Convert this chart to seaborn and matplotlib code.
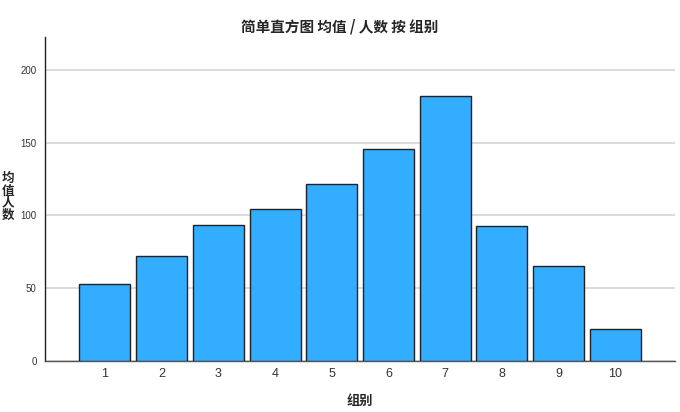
import pandas as pd
import matplotlib
matplotlib.use("Agg")
import matplotlib.pyplot as plt
import seaborn as sns

groups = ["1", "2", "3", "4", "5", "6", "7", "8", "9", "10"]
mean_counts = [52.5, 72, 93.2, 104.4, 121.4, 146, 182, 92.4, 65.4, 21.6]
yticks = [0, 50, 100, 150, 200]

df = pd.DataFrame({"group": groups, "count": mean_counts})

sns.set_style("white")
plt.rcParams["font.family"] = ["Liberation Sans", "Noto Sans CJK SC", "DejaVu Sans"]
cjk = ["Noto Sans CJK SC", "DejaVu Sans"]

fig = plt.figure(figsize=(6.8, 4.12), dpi=100)
ax = fig.add_axes([0.066, 0.1245, 0.927, 0.7855])

sns.barplot(data=df, x="group", y="count", order=groups, color="#33adff",
            saturation=1, width=0.9, edgecolor="#222222", linewidth=1, ax=ax, zorder=3)

ax.set_xlim(-1.06, 10.06)
ax.set_ylim(0, 222.7)
ax.set_yticks(yticks)
ax.yaxis.grid(True, color="#d9d9d9", linewidth=1.3, zorder=0)
ax.set_axisbelow(True)
ax.tick_params(axis="y", labelsize=7, length=0, pad=6, colors="#333333")
ax.tick_params(axis="x", labelsize=9, length=0, pad=5, colors="#333333")

for s in ["top", "right"]:
    ax.spines[s].set_visible(False)
ax.spines["left"].set_color("#222222")
ax.spines["bottom"].set_color("#555555")
ax.spines["left"].set_linewidth(1)
ax.spines["bottom"].set_linewidth(1)

ax.set_xlabel("组别", fontsize=9.5, fontweight="bold", family=cjk, labelpad=10)
ax.set_ylabel("")
fig.text(0.003, 0.522, "均\n值\n人\n数", fontsize=9, fontweight="bold", family=cjk,
         ha="left", va="center", linespacing=0.92)
fig.text(0.5, 0.935, "简单直方图 均值 / 人数 按 组别", fontsize=10.5, fontweight="bold",
         family=cjk, ha="center", va="center")

fig.savefig("out.png", dpi=100)
